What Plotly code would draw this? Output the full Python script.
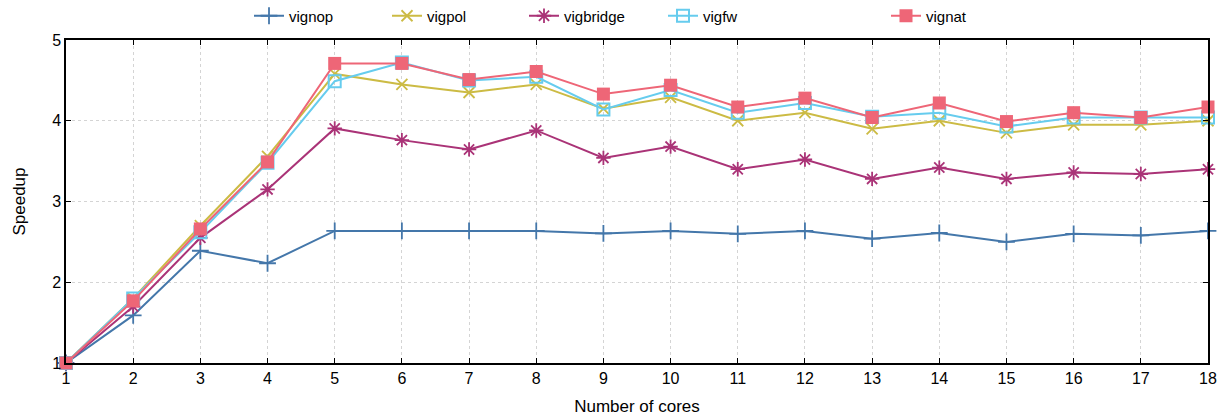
import plotly.graph_objects as go

cores = list(range(1, 19))
vignop = [1.0, 1.59, 2.39, 2.235, 2.635, 2.635, 2.635, 2.635, 2.605, 2.635, 2.60, 2.635, 2.54, 2.61, 2.50, 2.60, 2.58, 2.635]
vigpol = [1.0, 1.8, 2.7, 3.56, 4.58, 4.45, 4.35, 4.45, 4.15, 4.29, 4.0, 4.1, 3.9, 4.0, 3.85, 3.95, 3.95, 4.0]
vigbridge = [1.0, 1.70, 2.55, 3.15, 3.905, 3.76, 3.645, 3.88, 3.54, 3.68, 3.40, 3.52, 3.28, 3.42, 3.28, 3.36, 3.34, 3.40]
vigfw = [1.0, 1.8, 2.62, 3.48, 4.49, 4.72, 4.50, 4.545, 4.14, 4.38, 4.10, 4.22, 4.05, 4.10, 3.93, 4.04, 4.04, 4.04]
vignat = [1.0, 1.77, 2.66, 3.49, 4.71, 4.71, 4.51, 4.61, 4.33, 4.44, 4.17, 4.28, 4.04, 4.22, 3.99, 4.10, 4.04, 4.17]

series = [
    ("vignop", vignop, "#4477AA", "cross-thin-open", 12, 1.8, 248),
    ("vigpol", vigpol, "#CCBB44", "x-thin-open", 11, 1.8, 386),
    ("vigbridge", vigbridge, "#AA3377", "asterisk-open", 12, 1.8, 523),
    ("vigfw", vigfw, "#66CCEE", "square-open", 12, 2.0, 662),
    ("vignat", vignat, "#EE6677", "square", 13, 0, 885),
]

fig = go.Figure()
legends = {}
for i, (name, ys, color, sym, size, mlw, lx) in enumerate(series):
    key = "legend" if i == 0 else f"legend{i+1}"
    fig.add_trace(go.Scatter(
        x=cores, y=ys, name=name, mode="lines+markers",
        line=dict(color=color, width=2),
        marker=dict(symbol=sym, size=size, color=color,
                    line=dict(color=color, width=mlw)),
        legend=key,
    ))
    legends[key] = dict(orientation="h", xref="container", yref="container",
                        x=(lx + 1) / 1229, xanchor="left", y=1 - 16 / 417, yanchor="middle",
                        bgcolor="rgba(0,0,0,0)", font=dict(size=15), itemsizing="trace")

font = dict(family="Liberation Sans, Arial, sans-serif", size=16, color="#000")
fig.update_layout(
    width=1229, height=417,
    margin=dict(l=66, r=21, t=40, b=54, autoexpand=False),
    paper_bgcolor="white", plot_bgcolor="white",
    font=font,
    showlegend=True,
    xaxis=dict(
        range=[1, 18], tickmode="array", tickvals=cores,
        showgrid=True, gridcolor="#d4d4d4", griddash="dot", gridwidth=1,
        showline=True, linecolor="black", linewidth=1.5, mirror="ticks",
        ticks="inside", ticklen=5, tickcolor="black",
        zeroline=False, tickfont=dict(size=16),
        title=dict(text="Number of cores", standoff=14, font=dict(size=17)),
    ),
    yaxis=dict(
        range=[1, 5], tickvals=[1, 2, 3, 4, 5],
        showgrid=True, gridcolor="#d4d4d4", griddash="dot", gridwidth=1,
        showline=True, linecolor="black", linewidth=1.5, mirror="ticks",
        ticks="inside", ticklen=5, tickcolor="black",
        zeroline=False, tickfont=dict(size=16),
        title=dict(text="Speedup", standoff=22, font=dict(size=17)),
    ),
    **legends,
)
fig.update_traces(cliponaxis=False)
fig.write_html("out.html")
